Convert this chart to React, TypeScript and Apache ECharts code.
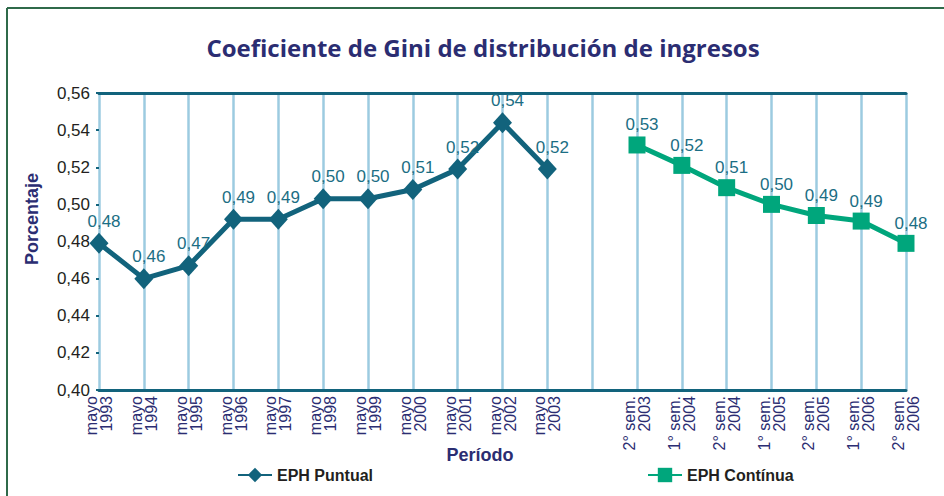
import React, { useEffect, useRef } from "react";
import * as echarts from "echarts";

const categories = [
  "mayo\n1993", "mayo\n1994", "mayo\n1995", "mayo\n1996", "mayo\n1997", "mayo\n1998",
  "mayo\n1999", "mayo\n2000", "mayo\n2001", "mayo\n2002", "mayo\n2003", "",
  "2° sem.\n2003", "1° sem.\n2004", "2° sem.\n2004", "1° sem.\n2005", "2° sem.\n2005",
  "1° sem.\n2006", "2° sem.\n2006",
];

const ephPuntual = [0.479, 0.46, 0.467, 0.492, 0.492, 0.503, 0.503, 0.508, 0.519, 0.544, 0.519];
const ephContinua = [0.532, 0.521, 0.509, 0.5, 0.494, 0.491, 0.479];

const yTicks = { min: 0.4, max: 0.56, interval: 0.02 };

const fmt = (v: number) => v.toFixed(2).replace(".", ",");

export default function App() {
  const ref = useRef<HTMLDivElement>(null);
  useEffect(() => {
    if (!ref.current) return;
    const chart = echarts.init(ref.current, undefined, { renderer: "svg" });
    const n = categories.length;
    const puntualData = categories.map((_, i) => (i < ephPuntual.length ? ephPuntual[i] : "-"));
    const continuaStart = n - ephContinua.length;
    const continuaData = categories.map((_, i) => (i >= continuaStart ? ephContinua[i - continuaStart] : "-"));
    const teal = "#12637c";
    const green = "#00a67c";
    const navy = "#2b2d72";
    const labelStyle = {
      show: true,
      position: "top",
      distance: 3,
      offset: [5, 0],
      color: "#1b6e84",
      fontSize: 17,
      fontFamily: "Liberation Sans",
      formatter: (p: any) => fmt(p.value),
    };
    const legendText = { color: "#231f20", fontSize: 16, fontWeight: "bold", fontFamily: "Liberation Sans" };
    chart.setOption({
      animation: false,
      backgroundColor: "#ffffff",
      title: {
        text: "Coeficiente de Gini de distribución de ingresos",
        left: 478,
        textAlign: "center",
        top: 30,
        textStyle: { color: navy, fontSize: 24, fontWeight: "bold", fontFamily: "Open Sans" },
      },
      graphic: [
        { type: "line", shape: { x1: 7, y1: 8, x2: 944, y2: 8 }, style: { stroke: "#2f6a4a", lineWidth: 2 } },
        { type: "line", shape: { x1: 7, y1: 8, x2: 7, y2: 496 }, style: { stroke: "#2f6a4a", lineWidth: 2 } },
        {
          type: "text",
          x: 32,
          y: 219,
          rotation: Math.PI / 2,
          style: {
            text: "Porcentaje",
            fill: navy,
            fontSize: 18,
            fontWeight: "bold",
            fontFamily: "Liberation Sans",
            align: "center",
            verticalAlign: "middle",
          },
        },
        {
          type: "text",
          x: 480,
          y: 455,
          style: {
            text: "Período",
            fill: navy,
            fontSize: 18,
            fontWeight: "bold",
            fontFamily: "Liberation Sans",
            align: "center",
            verticalAlign: "middle",
          },
        },
      ],
      legend: [
        {
          data: ["EPH Puntual"],
          left: 232,
          top: 462,
          itemWidth: 34,
          itemHeight: 18,
          textStyle: legendText,
        },
        {
          data: ["EPH Contínua"],
          left: 642,
          top: 462,
          itemWidth: 34,
          itemHeight: 18,
          textStyle: legendText,
        },
      ],
      grid: { left: 99, right: 38, top: 93, bottom: 106 },
      xAxis: [
        {
          type: "category",
          data: categories,
          boundaryGap: false,
          axisLine: { lineStyle: { color: teal, width: 3 } },
          axisTick: { show: false },
          splitLine: { show: true, lineStyle: { color: "#9ccbe0", width: 2.5 } },
          axisLabel: {
            interval: 0,
            rotate: 90,
            margin: 6,
            color: navy,
            fontSize: 16,
            lineHeight: 15,
            fontFamily: "Liberation Sans",
          },
        },
        {
          type: "category",
          data: categories,
          boundaryGap: false,
          position: "top",
          axisLine: { lineStyle: { color: teal, width: 3 } },
          axisTick: { show: false },
          axisLabel: { show: false },
          splitLine: { show: false },
        },
      ],
      yAxis: {
        type: "value",
        min: yTicks.min,
        max: yTicks.max,
        interval: yTicks.interval,
        axisLine: { show: false },
        axisTick: { show: true, length: 3, lineStyle: { color: teal, width: 2 } },
        splitLine: { show: false },
        axisLabel: {
          margin: 9,
          color: "#231f20",
          fontSize: 17,
          fontFamily: "Liberation Sans",
          formatter: (v: number) => fmt(v),
        },
      },
      series: [
        {
          name: "EPH Puntual",
          type: "line",
          data: puntualData,
          color: teal,
          symbol: "diamond",
          symbolSize: [19, 21],
          lineStyle: { width: 5, color: teal },
          itemStyle: { color: teal },
          label: labelStyle,
          z: 3,
        },
        {
          name: "EPH Contínua",
          type: "line",
          data: continuaData,
          color: green,
          symbol: "rect",
          symbolSize: 17,
          lineStyle: { width: 5, color: green },
          itemStyle: { color: green },
          label: labelStyle,
          z: 3,
        },
      ],
    });
    return () => chart.dispose();
  }, []);
  return <div ref={ref} style={{ position: "fixed", left: 0, top: 0, width: 944, height: 496 }} />;
}
